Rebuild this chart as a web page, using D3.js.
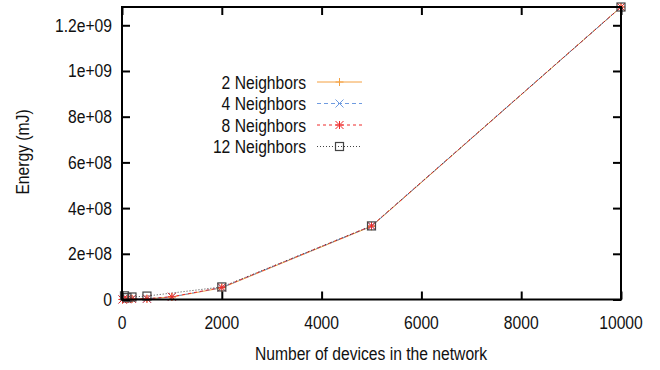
<!DOCTYPE html>
<html>
<head>
<meta charset="utf-8">
<script src="https://cdn.jsdelivr.net/npm/d3@7"></script>
<style>
  body { margin: 0; background: #fff; }
  text { font-family: "Liberation Sans", Arial, sans-serif; fill: #111; font-size: 18px; }
</style>
</head>
<body>
<svg id="canvas" width="660" height="370"></svg>
<script>
// data
var devices = [10, 100, 200, 500, 1000, 2000, 5000, 10000];
var energy_2 = [1e5, 1.2e6, 2.5e6, 3e6, 1.1e7, 5.1e7, 3.2e8, 1.28e9];
var energy_4 = [1e5, 1.3e6, 2.7e6, 3.2e6, 1.15e7, 5.2e7, 3.21e8, 1.28e9];
var energy_8 = [1e5, 1.4e6, 2.9e6, 3.4e6, 1.2e7, 5.3e7, 3.22e8, 1.28e9];
var devices_12 = [50, 100, 200, 500, 2000, 5000, 10000];
var energy_12 = [1.6e7, 8e6, 1.1e7, 1.5e7, 5.5e7, 3.22e8, 1.28e9];
var series_names = ["2 Neighbors", "4 Neighbors", "8 Neighbors", "12 Neighbors"];
var x_ticks = [0, 2000, 4000, 6000, 8000, 10000];
var y_ticks = [0, 2e8, 4e8, 6e8, 8e8, 1e9, 1.2e9];
var y_tick_labels = ["0", "2e+08", "4e+08", "6e+08", "8e+08", "1e+09", "1.2e+09"];

var svg = d3.select('#canvas');
var plot_left = 122, plot_right = 621, plot_top = 7, plot_bottom = 299.5;
var squeeze = 0.87; // the reference font is a bit condensed

var xScale = d3.scaleLinear().domain([0, 10000]).range([plot_left, plot_right]);
var yScale = d3.scaleLinear().domain([0, 1.28e9]).range([plot_bottom, plot_top]);

var series = [
  { name: series_names[0], xs: devices, ys: energy_2, color: '#f4a040', dash: null, marker: 'plus' },
  { name: series_names[1], xs: devices, ys: energy_4, color: '#6f9be0', dash: '4,3', marker: 'cross' },
  { name: series_names[2], xs: devices, ys: energy_8, color: '#ee2a2a', dash: '3,3', marker: 'star' },
  { name: series_names[3], xs: devices_12, ys: energy_12, color: '#444', dash: '1,2', marker: 'box' }
];

function addText(x, y, str, anchor, rot){
  return svg.append('text')
    .attr('transform', 'translate(' + x + ',' + y + ')' + (rot ? ' rotate(' + rot + ')' : '') + ' scale(' + squeeze + ',1)')
    .attr('text-anchor', anchor).text(str);
}

// markers
function drawMarker(g, type, cx, cy, color){
  var s = 4;
  if(type == 'plus'){
    g.append('path').attr('d', 'M'+(cx-s)+','+cy+'H'+(cx+s)+'M'+cx+','+(cy-s)+'V'+(cy+s))
      .attr('stroke', color).attr('stroke-width', 1);
  } else if(type == 'cross'){
    g.append('path').attr('d', 'M'+(cx-s)+','+(cy-s)+'L'+(cx+s)+','+(cy+s)+'M'+(cx-s)+','+(cy+s)+'L'+(cx+s)+','+(cy-s))
      .attr('stroke', color).attr('stroke-width', 1);
  } else if(type == 'star'){
    g.append('path').attr('d', 'M'+(cx-s)+','+cy+'H'+(cx+s)+'M'+cx+','+(cy-s)+'V'+(cy+s)
      +'M'+(cx-s)+','+(cy-s)+'L'+(cx+s)+','+(cy+s)+'M'+(cx-s)+','+(cy+s)+'L'+(cx+s)+','+(cy-s))
      .attr('stroke', color).attr('stroke-width', 1);
  } else {
    g.append('rect').attr('x', cx-s).attr('y', cy-s).attr('width', 2*s).attr('height', 2*s)
      .attr('fill', 'none').attr('stroke', color).attr('stroke-width', 1.2);
  }
}

var lineGen = d3.line().x(d => xScale(d[0])).y(d => yScale(d[1]));

// data lines
series.forEach(function(s){
  var pts = s.xs.map((x,i) => [x, s.ys[i]]);
  svg.append('path').attr('d', lineGen(pts)).attr('fill', 'none')
    .attr('stroke', s.color).attr('stroke-width', 1)
    .attr('stroke-dasharray', s.dash);
});
series.forEach(function(s){
  var g = svg.append('g');
  s.xs.forEach((x,i) => drawMarker(g, s.marker, xScale(x), yScale(s.ys[i]), s.color));
});

// axes, ticks inward and mirrored
svg.append('g').attr('transform', 'translate(0,' + plot_bottom + ')')
  .call(d3.axisTop(xScale).tickValues(x_ticks).tickSize(8).tickFormat(''));
svg.append('g').attr('transform', 'translate(0,' + plot_top + ')')
  .call(d3.axisBottom(xScale).tickValues(x_ticks).tickSize(8).tickFormat(''));
svg.append('g').attr('transform', 'translate(' + plot_left + ',0)')
  .call(d3.axisRight(yScale).tickValues(y_ticks).tickSize(8).tickFormat(''));
svg.append('g').attr('transform', 'translate(' + plot_right + ',0)')
  .call(d3.axisLeft(yScale).tickValues(y_ticks).tickSize(8).tickFormat(''));
svg.selectAll('.domain').remove();
svg.selectAll('.tick line').attr('stroke', '#000').attr('stroke-width', 2);

svg.append('rect').attr('x', plot_left).attr('y', plot_top)
  .attr('width', plot_right-plot_left).attr('height', plot_bottom-plot_top)
  .attr('fill', 'none').attr('stroke', '#000').attr('stroke-width', 2);

// tick labels
x_ticks.forEach(d => addText(xScale(d), 329, d, 'middle'));
y_ticks.forEach((d,i) => addText(112, yScale(d) + 6.5, y_tick_labels[i], 'end'));

// axis titles
addText(371, 360, 'Number of devices in the network', 'middle');
addText(29, 152, 'Energy (mJ)', 'middle', -90);

// legend
series.forEach(function(s, i){
  var ly = 82 + i*21.5;
  addText(306, ly + 6.5, s.name, 'end');
  svg.append('line').attr('x1', 317).attr('x2', 362).attr('y1', ly).attr('y2', ly)
    .attr('stroke', s.color).attr('stroke-width', 1).attr('stroke-dasharray', s.dash);
  drawMarker(svg.append('g'), s.marker, 339.5, ly, s.color);
});
</script>
</body>
</html>
